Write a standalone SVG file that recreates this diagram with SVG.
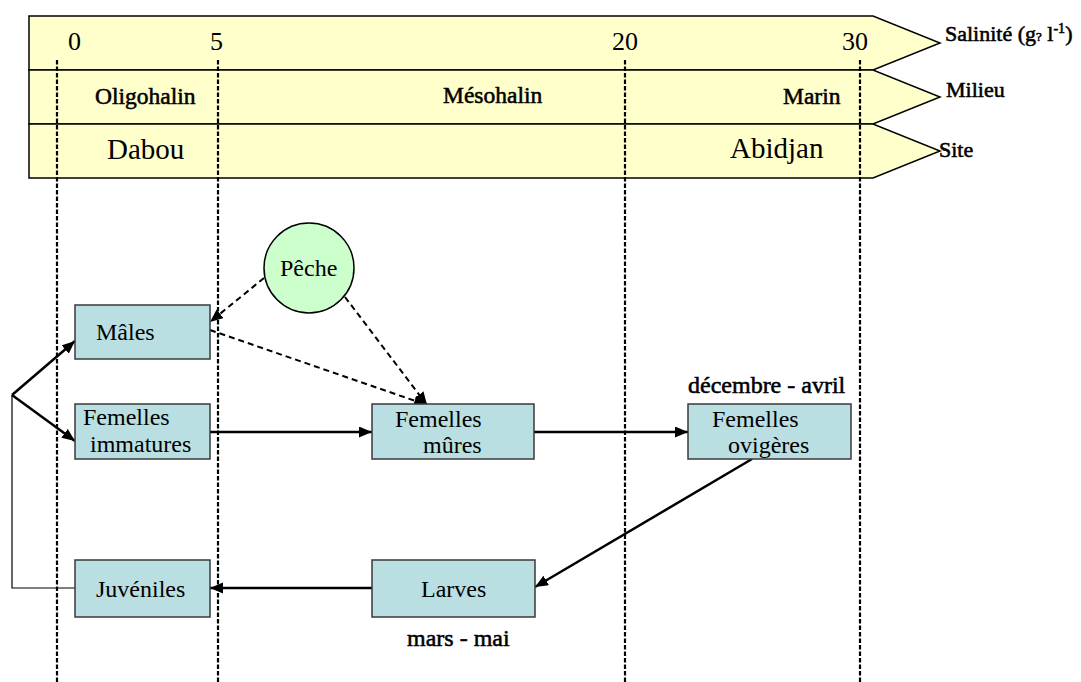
<svg xmlns="http://www.w3.org/2000/svg" width="1081" height="682" viewBox="0 0 1081 682">
  <defs>
    <marker id="arrow" markerUnits="userSpaceOnUse" markerWidth="14" markerHeight="12" refX="13" refY="5.5" orient="auto">
      <path d="M0,0 L13,5.5 L0,11 z" fill="#000"/>
    </marker>
    <style>
      .band { fill: #FFFFCC; stroke: #000; stroke-width: 1.5; }
      .box { fill: #BADFE3; stroke: #3a3a3a; stroke-width: 1.5; }
      .t { font-family: "Liberation Serif", "Times New Roman", serif; fill: #000; }
      .semi { stroke: #000; stroke-width: 0.55; }
      .tick { font-size: 26px; }
      .zone { font-size: 23.5px; }
      .site { font-size: 29px; }
      .side { font-size: 22px; }
      .lbl { font-size: 24px; }
      .season { font-size: 24px; }
      .grid { stroke: #000; stroke-width: 2.2; stroke-dasharray: 4.5 2; fill: none; }
      .flow { stroke: #000; stroke-width: 2.5; fill: none; }
      .thin { stroke: #000; stroke-width: 1.2; fill: none; }
      .catch { stroke: #000; stroke-width: 2; stroke-dasharray: 6 4; fill: none; }
    </style>
  </defs>

  <!-- Salinity / environment / site bands -->
  <g id="bands">
    <path class="band" d="M29,16 L873,16 L940,43 L873,70 L29,70 z"/>
    <path class="band" d="M29,70 L873,70 L940,97 L873,124 L29,124 z"/>
    <path class="band" d="M29,124 L873,124 L940,151 L873,178 L29,178 z"/>
    <text class="t tick" x="68" y="50">0</text>
    <text class="t tick" x="210" y="50">5</text>
    <text class="t tick" x="612" y="50">20</text>
    <text class="t tick" x="842" y="50">30</text>
    <text class="t semi zone" x="95" y="104">Oligohalin</text>
    <text class="t semi zone" x="443" y="103">Mésohalin</text>
    <text class="t semi zone" x="783" y="104">Marin</text>
    <text class="t site" x="107" y="159">Dabou</text>
    <text class="t site" x="730" y="158">Abidjan</text>
    <text class="t semi side" x="945" y="41">Salinité (g<tspan font-size="13">?</tspan> l<tspan font-size="14" dy="-8">-1</tspan><tspan dy="8">)</tspan></text>
    <text class="t semi side" x="946" y="97" font-size="23">Milieu</text>
    <text class="t semi side" x="939" y="157" font-size="23">Site</text>
  </g>

  <!-- Salinity reference lines -->
  <g id="gridlines">
    <line class="grid" x1="57" y1="60" x2="57" y2="682"/>
    <line class="grid" x1="218" y1="60" x2="218" y2="682"/>
    <line class="grid" x1="625" y1="60" x2="625" y2="682"/>
    <line class="grid" x1="860" y1="60" x2="860" y2="682"/>
  </g>

  <!-- Connectors -->
  <g id="connectors">
    <path class="flow" d="M12,395 L75,341" marker-end="url(#arrow)"/>
    <path class="flow" d="M12,395 L75,441" marker-end="url(#arrow)"/>
    <path class="thin" d="M12,395 L12,588 L75,588"/>
    <path class="flow" d="M210,432 L372,432" marker-end="url(#arrow)"/>
    <path class="flow" d="M534,432 L688,432" marker-end="url(#arrow)"/>
    <path class="flow" d="M752,459 L535,587" marker-end="url(#arrow)"/>
    <path class="flow" d="M372,588 L210,588" marker-end="url(#arrow)"/>
    <path class="catch" d="M264,278 L210,322" marker-end="url(#arrow)"/>
    <path class="catch" d="M210,330 L427,405" marker-end="url(#arrow)"/>
    <path class="catch" d="M345,297 L427,405" marker-end="url(#arrow)"/>
  </g>

  <g id="peche">
    <circle cx="309" cy="268" r="45" fill="#CCFFCC" stroke="#000" stroke-width="1.5"/>
    <text class="t lbl" x="280" y="276" font-size="23">Pêche</text>
  </g>

  <g id="males">
    <rect class="box" x="75" y="305" width="135" height="54"/>
    <text class="t lbl" x="96" y="340">Mâles</text>
  </g>

  <g id="femelles-immatures">
    <rect class="box" x="75" y="404" width="135" height="55"/>
    <text class="t lbl" x="83" y="425">Femelles</text>
    <text class="t lbl" x="90" y="452">immatures</text>
  </g>

  <g id="femelles-mures">
    <rect class="box" x="372" y="404" width="162" height="55"/>
    <text class="t lbl" x="395" y="427">Femelles</text>
    <text class="t lbl" x="423" y="453">mûres</text>
  </g>

  <g id="femelles-ovigeres">
    <rect class="box" x="688" y="404" width="163" height="55"/>
    <text class="t lbl" x="712" y="427">Femelles</text>
    <text class="t lbl" x="728" y="453">ovigères</text>
    <text class="t semi season" x="688" y="393">décembre - avril</text>
  </g>

  <g id="larves">
    <rect class="box" x="372" y="560" width="163" height="57"/>
    <text class="t lbl" x="421" y="597">Larves</text>
    <text class="t semi season" x="407" y="646">mars - mai</text>
  </g>

  <g id="juveniles">
    <rect class="box" x="75" y="560" width="135" height="57"/>
    <text class="t lbl" x="96" y="597">Juvéniles</text>
  </g>
</svg>
